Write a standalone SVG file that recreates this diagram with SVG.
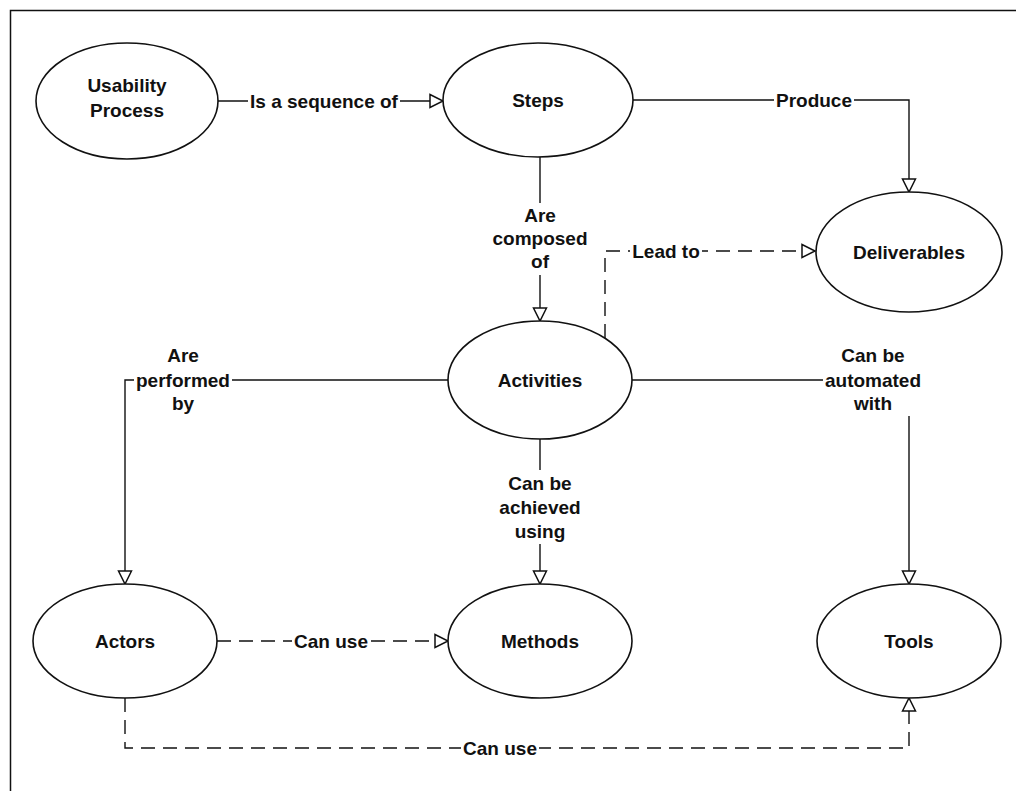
<svg xmlns="http://www.w3.org/2000/svg" width="1016" height="791" viewBox="0 0 1016 791">
<style>
.frame{fill:none;stroke:#111;stroke-width:1.5}
.node ellipse{fill:#fff;stroke:#111;stroke-width:1.6}
text{font-family:"Liberation Sans",Arial,Helvetica,sans-serif;font-weight:bold;font-size:19px;fill:#111;text-anchor:middle}
.conn{fill:none;stroke:#111;stroke-width:1.4}
.dash{stroke-dasharray:14 8}
.bg{fill:#fff;stroke:none}
</style>
<defs>
<marker id="arr" markerUnits="userSpaceOnUse" markerWidth="16" markerHeight="16" refX="14" refY="7" orient="auto" overflow="visible">
<path d="M1,0.5 L14,7 L1,13.5 Z" fill="#fff" stroke="#111" stroke-width="1.5" stroke-dasharray="none"/>
</marker>
</defs>
<rect width="1016" height="791" fill="#fff"/>
<rect class="frame" x="10.5" y="10.5" width="1030" height="820"/>

<g id="connectors">
<path class="conn" d="M218,101 H443" marker-end="url(#arr)"/>
<path class="conn" d="M633,100 H909 V192" marker-end="url(#arr)"/>
<path class="conn" d="M540,157 V321" marker-end="url(#arr)"/>
<path class="conn dash" d="M605,338 V251 H815" marker-end="url(#arr)"/>
<path class="conn" d="M448,380 H125 V584" marker-end="url(#arr)"/>
<path class="conn" d="M632,380 H909 V584" marker-end="url(#arr)"/>
<path class="conn" d="M540,439 V584" marker-end="url(#arr)"/>
<path class="conn dash" d="M217,641 H448" marker-end="url(#arr)"/>
<path class="conn dash" d="M125,698 V748 H909 V698" marker-end="url(#arr)"/>

<g id="lbl-sequence"><rect class="bg" x="248" y="88" width="152" height="24"/><text x="324" y="108">Is a sequence of</text></g>
<g id="lbl-produce"><rect class="bg" x="774" y="88" width="80" height="24"/><text x="814" y="107">Produce</text></g>
<g id="lbl-composed"><rect class="bg" x="490" y="203" width="100" height="72"/><text x="540" y="222">Are</text><text x="540" y="245">composed</text><text x="540" y="268">of</text></g>
<g id="lbl-lead"><rect class="bg" x="630" y="240" width="72" height="24"/><text x="666" y="258">Lead to</text></g>
<g id="lbl-performed"><rect class="bg" x="134" y="346" width="98" height="70"/><text x="183" y="362">Are</text><text x="183" y="387">performed</text><text x="183" y="410">by</text></g>
<g id="lbl-automated"><rect class="bg" x="823" y="346" width="100" height="70"/><text x="873" y="362">Can be</text><text x="873" y="387">automated</text><text x="873" y="410">with</text></g>
<g id="lbl-achieved"><rect class="bg" x="497" y="470" width="86" height="74"/><text x="540" y="490">Can be</text><text x="540" y="514">achieved</text><text x="540" y="538">using</text></g>
<g id="lbl-canuse1"><rect class="bg" x="292" y="630" width="78" height="24"/><text x="331" y="648">Can use</text></g>
<g id="lbl-canuse2"><rect class="bg" x="461" y="737" width="78" height="24"/><text x="500" y="755">Can use</text></g>
</g>

<g id="usability-process" class="node"><ellipse cx="127" cy="101" rx="91" ry="58"/><text x="127" y="92">Usability</text><text x="127" y="117">Process</text></g>
<g id="steps" class="node"><ellipse cx="538" cy="100" rx="95" ry="57"/><text x="538" y="107">Steps</text></g>
<g id="deliverables" class="node"><ellipse cx="909" cy="252" rx="93" ry="60"/><text x="909" y="259">Deliverables</text></g>
<g id="activities" class="node"><ellipse cx="540" cy="380" rx="92" ry="59"/><text x="540" y="387">Activities</text></g>
<g id="actors" class="node"><ellipse cx="125" cy="641" rx="92" ry="57"/><text x="125" y="648">Actors</text></g>
<g id="methods" class="node"><ellipse cx="540" cy="641" rx="92" ry="57"/><text x="540" y="648">Methods</text></g>
<g id="tools" class="node"><ellipse cx="909" cy="641" rx="92" ry="57"/><text x="909" y="648">Tools</text></g>
</svg>
